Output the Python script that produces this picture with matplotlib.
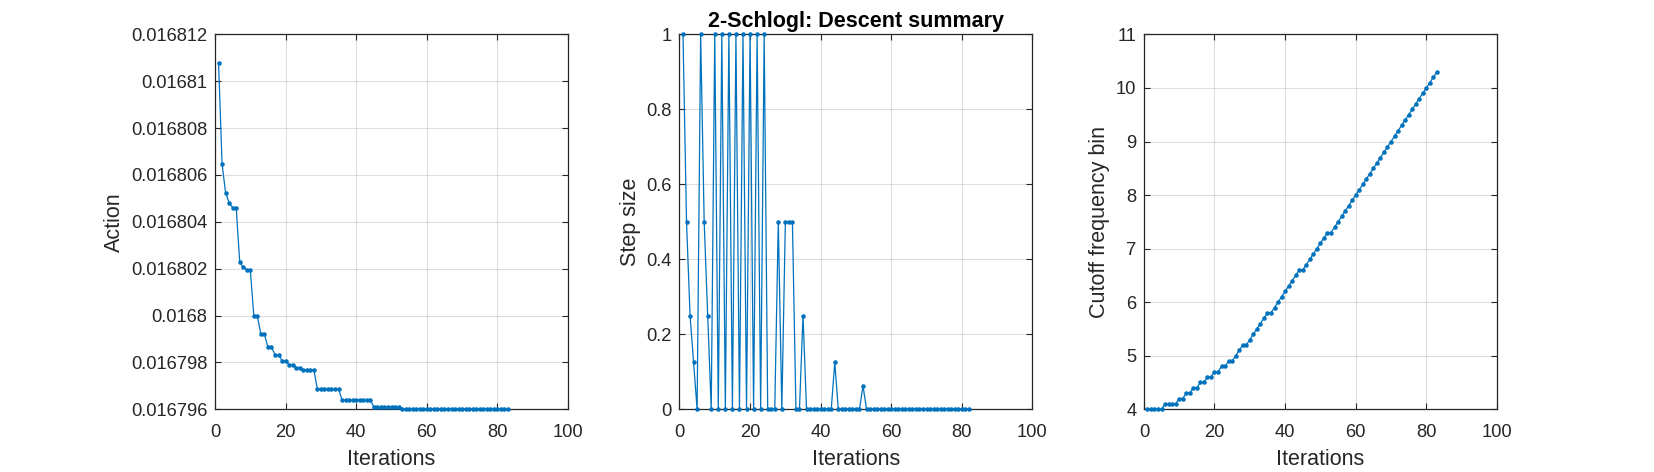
import matplotlib
matplotlib.use("Agg")
import matplotlib.pyplot as plt
import numpy as np

plt.rcParams['font.family'] = ['Liberation Sans', 'DejaVu Sans']

# action per iteration
action = [
    0.01681079, 0.01680646, 0.01680524, 0.01680482, 0.01680460, 0.01680460,
    0.01680228, 0.01680206, 0.01680195, 0.01680195, 0.01679997, 0.01679997,
    0.01679920, 0.01679920, 0.01679864, 0.01679864, 0.01679833, 0.01679833,
    0.01679807, 0.01679807, 0.01679790, 0.01679790, 0.01679777, 0.01679777,
    0.01679768, 0.01679768, 0.01679768, 0.01679768,
    0.01679686, 0.01679686, 0.01679686, 0.01679686, 0.01679686, 0.01679686,
    0.01679686,
    0.01679639, 0.01679639, 0.01679639, 0.01679639, 0.01679639, 0.01679639,
    0.01679639, 0.01679639, 0.01679639,
    0.01679610, 0.01679610, 0.01679610, 0.01679610, 0.01679610, 0.01679610,
    0.01679610, 0.01679610,
    0.016796, 0.016796, 0.016796, 0.016796, 0.016796, 0.016796, 0.016796,
    0.016796, 0.016796, 0.016796, 0.016796, 0.016796, 0.016796, 0.016796,
    0.016796, 0.016796, 0.016796, 0.016796, 0.016796, 0.016796, 0.016796,
    0.016796, 0.016796, 0.016796, 0.016796, 0.016796, 0.016796, 0.016796,
    0.016796, 0.016796, 0.016796,
]

# step size per iteration
step = [
    1, 0.5, 0.25, 0.125, 0, 1, 0.5, 0.25, 0, 1,
    0, 1, 0, 1, 0, 1, 0, 1, 0, 1,
    0, 1, 0, 1, 0, 0, 0, 0.5, 0, 0.5,
    0.5, 0.5, 0, 0, 0.25, 0, 0, 0, 0, 0,
    0, 0, 0, 0.125, 0, 0, 0, 0, 0, 0,
    0, 0.0625, 0, 0, 0, 0, 0, 0, 0, 0,
    0, 0, 0, 0, 0, 0, 0, 0, 0, 0,
    0, 0, 0, 0, 0, 0, 0, 0, 0, 0,
    0, 0,
]

# cutoff frequency bin per iteration
cutoff = [
    4.0, 4.0, 4.0, 4.0, 4.0, 4.1, 4.1, 4.1, 4.1, 4.2,
    4.2, 4.3, 4.3, 4.4, 4.4, 4.5, 4.5, 4.6, 4.6, 4.7,
    4.7, 4.8, 4.8, 4.9, 4.9, 5.0, 5.1, 5.2, 5.2, 5.3,
    5.4, 5.5, 5.6, 5.7, 5.8, 5.8, 5.9, 6.0, 6.1, 6.2,
    6.3, 6.4, 6.5, 6.6, 6.6, 6.7, 6.8, 6.9, 7.0, 7.1,
    7.2, 7.3, 7.3, 7.4, 7.5, 7.6, 7.7, 7.8, 7.9, 8.0,
    8.1, 8.2, 8.3, 8.4, 8.5, 8.6, 8.7, 8.8, 8.9, 9.0,
    9.1, 9.2, 9.3, 9.4, 9.5, 9.6, 9.7, 9.8, 9.9, 10.0,
    10.1, 10.2, 10.3,
]

action_ticks = [0.016796, 0.016798, 0.0168, 0.016802, 0.016804,
                0.016806, 0.016808, 0.01681, 0.016812]
action_ticklabels = ['0.016796', '0.016798', '0.0168', '0.016802', '0.016804',
                     '0.016806', '0.016808', '0.01681', '0.016812']
step_ticks = [0, 0.2, 0.4, 0.6, 0.8, 1]
step_ticklabels = ['0', '0.2', '0.4', '0.6', '0.8', '1']
cutoff_ticks = [4, 5, 6, 7, 8, 9, 10, 11]
x_ticks = [0, 20, 40, 60, 80, 100]

blue = '#0072BD'
dark = '#262626'

fig = plt.figure(figsize=(16.54, 4.72), dpi=100)
lefts = [0.1300, 0.4108, 0.6916]
axs = [fig.add_axes([l, 0.133, 0.2134, 0.794]) for l in lefts]

series = [action, step, cutoff]
ylabels = ['Action', 'Step size', 'Cutoff frequency bin']
ylims = [(0.016796, 0.016812), (0, 1), (4, 11)]

for i, ax in enumerate(axs):
    y = series[i]
    x = np.arange(1, len(y) + 1)
    ax.plot(x, y, color=blue, linewidth=0.9, marker='.', markersize=4.5,
            clip_on=False, zorder=3)
    ax.set_xlim(0, 100)
    ax.set_ylim(*ylims[i])
    ax.set_xticks(x_ticks)
    ax.set_xlabel('Iterations', fontsize=15.5, color=dark, labelpad=6)
    ax.set_ylabel(ylabels[i], fontsize=15.5, color=dark, labelpad=4)
    ax.grid(True, color=dark, alpha=0.15, linewidth=0.8)
    ax.set_axisbelow(True)
    ax.tick_params(direction='in', top=True, right=True, length=4,
                   width=0.8, labelsize=13.2, colors=dark)
    ax.tick_params(axis='x', pad=10.5)
    ax.tick_params(axis='y', pad=5.5)
    for s in ax.spines.values():
        s.set_color(dark)
        s.set_linewidth(0.9)

axs[0].set_yticks(action_ticks, labels=action_ticklabels)
axs[1].set_yticks(step_ticks, labels=step_ticklabels)
axs[2].set_yticks(cutoff_ticks)
axs[1].set_title('2-Schlogl: Descent summary', fontsize=15.5, fontweight='bold',
                 pad=5.5)

plt.savefig('out.png', dpi=100)
plt.close(fig)
